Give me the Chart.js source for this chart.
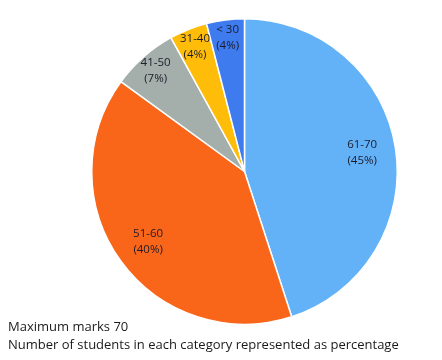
<!DOCTYPE html>
<html>
<head>
<meta charset="utf-8">
<script src="https://cdn.jsdelivr.net/npm/chart.js@4"></script>
<style>
html,body{margin:0;padding:0;background:#fff;}
#wrap{position:relative;width:442px;height:360px;}
canvas{position:absolute;left:0;top:0;}
.cap{position:absolute;left:8px;font-family:"Open Sans","Liberation Sans",sans-serif;font-size:13px;line-height:18px;color:#1a1a1a;white-space:nowrap;}
</style>
</head>
<body>
<div id="wrap">
<canvas id="c" width="442" height="360"></canvas>
<div class="cap" style="top:317px">Maximum marks 70</div>
<div class="cap" style="top:335px">Number of students in each category represented as percentage</div>
</div>
<script>
const categories = ["61-70", "51-60", "41-50", "31-40", "< 30"];
const percentages = [45, 40, 7, 4, 4];
const colors = ["#63B2F8", "#F9661A", "#A4AFAB", "#FFBD0A", "#3E7BEF"];

const labelPlugin = {
  id: 'sliceLabels',
  afterDatasetsDraw(chart) {
    const ctx = chart.ctx;
    const meta = chart.getDatasetMeta(0);
    ctx.save();
    ctx.font = '11.5px "Open Sans", "Liberation Sans", sans-serif';
    ctx.fillStyle = '#1c1c2a';
    ctx.textAlign = 'center';
    ctx.textBaseline = 'middle';
    meta.data.forEach((arc, i) => {
      const p = arc.getProps(['startAngle','endAngle','outerRadius','x','y'], true);
      const mid = (p.startAngle + p.endAngle) / 2;
      const f = percentages[i] > 20 ? 0.78 : 0.88;
      const r = p.outerRadius * f;
      const x = p.x + Math.cos(mid) * r;
      const y = p.y + Math.sin(mid) * r;
      ctx.fillText(categories[i], x, y - 8);
      ctx.fillText('(' + percentages[i] + '%)', x, y + 8);
    });
    ctx.restore();
  }
};

new Chart(document.getElementById('c'), {
  type: 'pie',
  data: {
    labels: categories,
    datasets: [{
      data: percentages,
      backgroundColor: colors,
      borderColor: '#ffffff',
      borderWidth: 1.5,
      hoverOffset: 0
    }]
  },
  options: {
    responsive: false,
    animation: false,
    layout: { padding: { left: 91, right: 44, top: 18, bottom: 35 } },
    plugins: { legend: { display: false }, tooltip: { enabled: false } }
  },
  plugins: [labelPlugin]
});
</script>
</body>
</html>
